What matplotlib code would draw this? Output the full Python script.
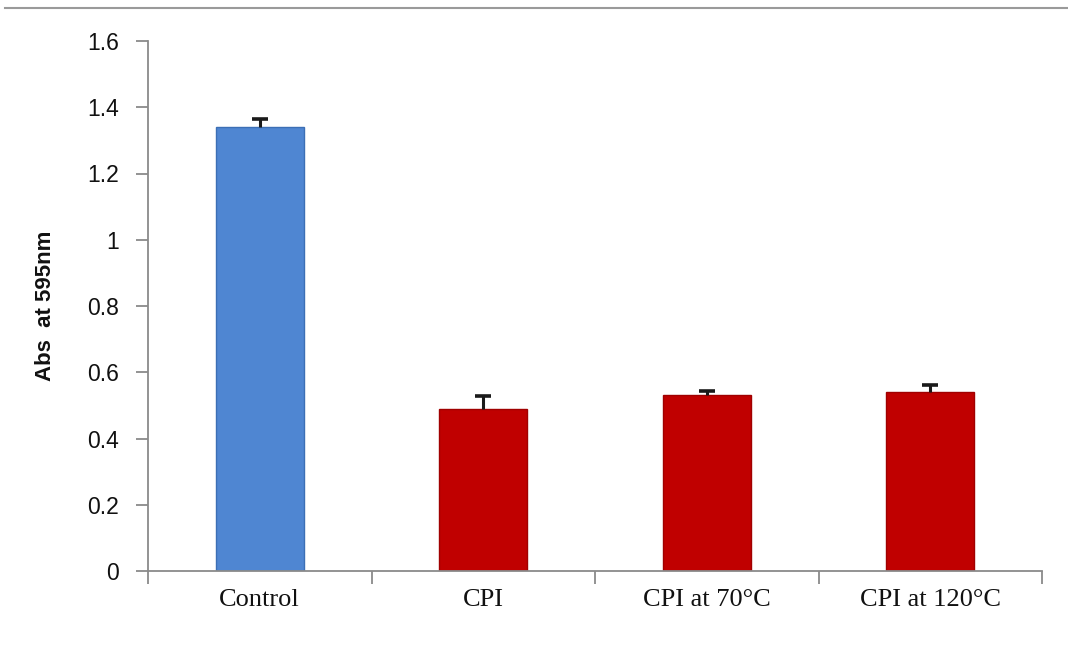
import matplotlib
matplotlib.use("Agg")
import matplotlib.pyplot as plt
import numpy as np
from matplotlib.lines import Line2D

categories = ["Control", "CPI", "CPI at 70\u00b0C", "CPI at 120\u00b0C"]
values = [1.340, 0.489, 0.531, 0.539]
errors = [0.025, 0.040, 0.012, 0.024]
colors = ["#4F86D2", "#C00000", "#C00000", "#C00000"]
edge_colors = ["#3C6FB5", "#A00000", "#A00000", "#A00000"]
yticks = [0, 0.2, 0.4, 0.6, 0.8, 1, 1.2, 1.4, 1.6]
ytick_labels = ["0", "0.2", "0.4", "0.6", "0.8", "1", "1.2", "1.4", "1.6"]

fig = plt.figure(figsize=(10.68, 6.48), dpi=100)
ax = fig.add_axes([148 / 1068, 1 - 571 / 648, (1042 - 148) / 1068, (571 - 41) / 648])

x = np.arange(len(categories))
vals = np.array(values)
errs = np.array(errors)
ax.bar(x, vals, width=0.395, color=colors, edgecolor=edge_colors, linewidth=1.0, zorder=2)

# positive-only error bars: stem from the bar top and a cap at the upper end
cap_half = 0.035
ax.vlines(x, vals, vals + errs, colors="#1a1a1a", linewidth=2.2, zorder=3)
ax.hlines(vals + errs, x - cap_half, x + cap_half, colors="#1a1a1a", linewidth=2.6, zorder=3)

ax.set_xlim(-0.5, len(categories) - 0.5)
ax.set_ylim(0, 1.6)

for side in ["top", "right"]:
    ax.spines[side].set_visible(False)
for side in ["left", "bottom"]:
    ax.spines[side].set_color("#8a8a8a")
    ax.spines[side].set_linewidth(1.3)

ax.set_yticks(yticks)
ax.set_yticklabels(ytick_labels, fontsize=16.5, family="Liberation Sans", color="#111111")
ax.tick_params(axis="y", direction="out", length=9, width=1.3, color="#8a8a8a", pad=12)

# category boundaries carry the x tick marks; labels sit at bar centers
ax.set_xticks(np.arange(len(categories) + 1) - 0.5)
ax.set_xticklabels([])
ax.tick_params(axis="x", direction="out", length=9, width=1.3, color="#8a8a8a")
ax.set_xticks(x, minor=True)
ax.set_xticklabels(categories, minor=True, fontsize=19, family="Liberation Serif", color="#111111")
ax.tick_params(axis="x", which="minor", length=0, pad=13)

ax.set_ylabel("Abs  at 595nm", fontsize=16, fontweight="bold", family="Liberation Sans",
              color="#111111", labelpad=22)

# thin rule across the top of the figure
fig.add_artist(Line2D([0.005, 1.0], [1 - 8 / 648, 1 - 8 / 648], color="#9a9a9a",
                      linewidth=1.5, transform=fig.transFigure))

fig.savefig("out.png", dpi=100)
